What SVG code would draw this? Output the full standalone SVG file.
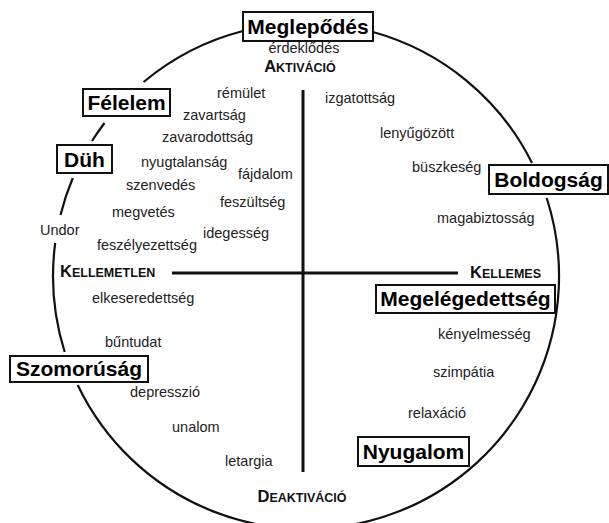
<svg xmlns="http://www.w3.org/2000/svg" width="609" height="523" viewBox="0 0 609 523">
<style>
.w{font-family:"Liberation Sans",Arial,sans-serif;font-size:14.5px;fill:#222}
.b{font-family:"Liberation Sans",Arial,sans-serif;font-size:21px;font-weight:bold;fill:#000;text-anchor:middle}
.sc{font-family:"Liberation Sans",Arial,sans-serif;font-size:12.5px;font-weight:bold;fill:#111}
.big{font-size:16.5px}
.box{fill:#fff;stroke:#111;stroke-width:2}
.arc{fill:none;stroke:#111;stroke-width:2.2}
.axis{fill:none;stroke:#111;stroke-width:3}
</style>
<rect width="609" height="523" fill="#fff"/>
<g id="connectors">
<path class="arc" d="M373,32 A253,253 0 0 1 532,163"/>
<path class="arc" d="M546.7,198 A253,253 0 0 1 77.7,385"/>
<path class="arc" d="M64.7,352 A253,253 0 0 1 55.2,243"/>
<path class="arc" d="M60.5,215 A253,253 0 0 1 72.8,178"/>
<path class="arc" d="M92,141 A253,253 0 0 1 104.5,123"/>
<path class="arc" d="M143.6,82 A253,253 0 0 1 243,31"/>
</g>
<g id="axes">
<line class="axis" x1="303" y1="90" x2="303" y2="472"/>
<line class="axis" x1="172" y1="273" x2="458" y2="273"/>
<text class="sc" x="300" y="72" text-anchor="middle"><tspan class="big">A</tspan>KTIVÁCIÓ</text>
<text class="sc" x="302" y="502" text-anchor="middle"><tspan class="big">D</tspan>EAKTIVÁCIÓ</text>
<text class="sc" x="60" y="277"><tspan class="big">K</tspan>ELLEMETLEN</text>
<text class="sc" x="541" y="278" text-anchor="end"><tspan class="big">K</tspan>ELLEMES</text>
</g>
<g id="meglepodes"><rect class="box" x="243" y="12" width="130" height="29"/><text class="b" x="308" y="34">Meglepődés</text></g>
<g id="felelem"><rect class="box" x="83" y="89" width="87" height="27"/><text class="b" x="126.5" y="110">Félelem</text></g>
<g id="duh"><rect class="box" x="57" y="145" width="55" height="28"/><text class="b" x="84.5" y="167">Düh</text></g>
<g id="boldogsag"><rect class="box" x="489" y="165" width="119" height="29"/><text class="b" x="548.5" y="187">Boldogság</text></g>
<g id="megelegedettseg"><rect class="box" x="376" y="285" width="179" height="28"/><text class="b" x="465.5" y="306">Megelégedettség</text></g>
<g id="szomorusag"><rect class="box" x="10" y="356" width="138" height="26"/><text class="b" x="79" y="376">Szomorúság</text></g>
<g id="nyugalom"><rect class="box" x="358" y="437" width="111" height="29"/><text class="b" x="413.5" y="459">Nyugalom</text></g>
<g id="undor"><text class="w" x="40" y="235">Undor</text></g>
<g id="words">
<text class="w" x="304" y="53" text-anchor="middle">érdeklődés</text>
<text class="w" x="217" y="98">rémület</text>
<text class="w" x="183" y="120">zavartság</text>
<text class="w" x="162" y="142">zavarodottság</text>
<text class="w" x="141" y="167">nyugtalanság</text>
<text class="w" x="238" y="179">fájdalom</text>
<text class="w" x="126" y="190">szenvedés</text>
<text class="w" x="220" y="207">feszültség</text>
<text class="w" x="112" y="217">megvetés</text>
<text class="w" x="203" y="238">idegesség</text>
<text class="w" x="97" y="250">feszélyezettség</text>
<text class="w" x="92" y="303">elkeseredettség</text>
<text class="w" x="105" y="347">bűntudat</text>
<text class="w" x="130" y="397">depresszió</text>
<text class="w" x="172" y="432">unalom</text>
<text class="w" x="225" y="466">letargia</text>
<text class="w" x="325" y="103">izgatottság</text>
<text class="w" x="380" y="138">lenyűgözött</text>
<text class="w" x="412" y="172">büszkeség</text>
<text class="w" x="437" y="223">magabiztosság</text>
<text class="w" x="438" y="339">kényelmesség</text>
<text class="w" x="433" y="377">szimpátia</text>
<text class="w" x="408" y="418">relaxáció</text>
</g>
</svg>
